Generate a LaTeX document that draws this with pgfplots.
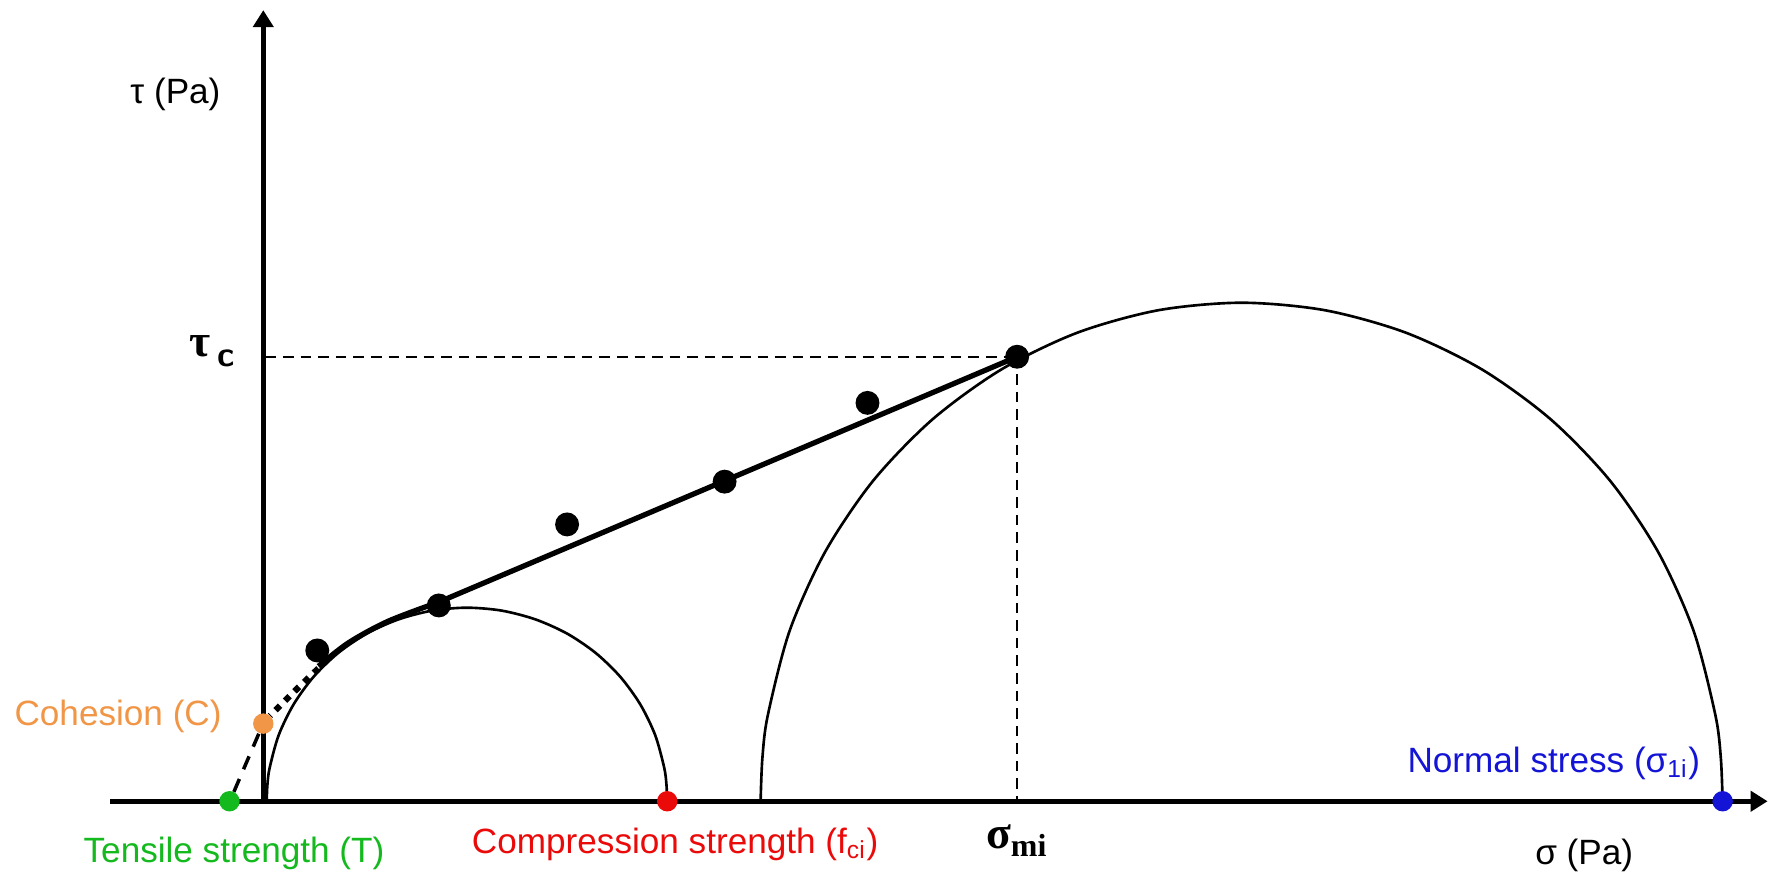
\documentclass[border=0pt]{standalone}
\usepackage{fontspec}
\setmainfont{Liberation Sans}
\newfontfamily\serifgreek{Liberation Serif}
\usepackage{pgfplots}
\pgfplotsset{compat=1.18}
\usetikzlibrary{arrows.meta}

\definecolor{tgreen}{RGB}{20,185,30}
\definecolor{cred}{RGB}{235,10,10}
\definecolor{nblue}{RGB}{20,20,215}
\definecolor{corange}{RGB}{240,150,70}

\begin{document}
\begin{tikzpicture}
\begin{axis}[
    hide axis, scale only axis,
    width=17.71cm, height=8.80cm,
    xmin=0, xmax=1574, ymin=0, ymax=782,
    y dir=reverse, clip=false,
    every node/.style={font=\fontsize{11}{13}\selectfont},
]
% keeps the page as large as the frame
\addplot[draw=none] coordinates {(0,0) (1574,782)};

% small Mohr circle
\addplot[smooth, line width=0.75pt] coordinates {
    (593,712) (592.3,697) (590.3,682.1) (582.3,653.2) (569.1,626) (551.3,601.4)
    (529.4,580.2) (504,563) (475.9,550.4) (445.9,542.6) (415,540)
    (384.1,542.6) (354.1,550.4) (326,563) (300.6,580.2) (278.7,601.4)
    (260.9,626) (247.7,653.2) (239.7,682.1) (237.7,697) (237,712)};

% large Mohr circle
\addplot[smooth, line width=0.75pt] coordinates {
    (1531,712) (1529.4,673.4) (1524.5,635.1) (1505.2,560.5) (1473.7,490.5) (1431,427.2)
    (1378.3,372.7) (1317.3,328.4) (1249.7,295.7) (1177.7,275.7) (1103.5,269)
    (1029.3,275.7) (957.3,295.7) (889.8,328.4) (828.7,372.7) (776,427.2)
    (733.3,490.5) (701.8,560.5) (682.5,635.1) (677.6,673.4) (676,712)};

% failure envelope
\addplot[smooth, line width=1.5pt] coordinates {
    (283,592) (310,571) (345,552) (390,535)};
\addplot[line width=1.5pt] coordinates {(390,535) (904,317)};
\addplot[line width=1.8pt, dotted] coordinates {(283,594) (262,614) (240,636)};
\addplot[line width=1pt, dash pattern=on 4pt off 3pt] coordinates {(230,652) (206,708)};

% guide lines
\addplot[line width=0.6pt, dash pattern=on 3pt off 2pt] coordinates {(236,317) (904,317)};
\addplot[line width=0.6pt, dash pattern=on 3pt off 2pt] coordinates {(904,317) (904,712)};

% axes
\addplot[line width=1.5pt, -{Triangle[length=1.7mm, width=2mm]}] coordinates {(98,712) (1571,712)};
\addplot[line width=1.5pt, -{Triangle[length=1.7mm, width=2mm]}] coordinates {(234,712) (234,9)};

% test points
\addplot[only marks, mark=*, mark size=3.2pt, black] coordinates {
    (282,578) (390,538) (504,466) (644,428) (771,358) (904,317)};

% marked strengths
\addplot[only marks, mark=*, mark size=2.7pt, tgreen] coordinates {(204,712)};
\addplot[only marks, mark=*, mark size=2.7pt, cred] coordinates {(593,712)};
\addplot[only marks, mark=*, mark size=2.7pt, nblue] coordinates {(1531,712)};
\addplot[only marks, mark=*, mark size=2.7pt, corange] coordinates {(234,643)};

% labels
\node[anchor=east] at (axis cs:207,84) {τ (Pa)};
\node[anchor=east, font=\fontsize{13}{14}\selectfont\bfseries\serifgreek] at (axis cs:220,312)
    {τ\,\raisebox{-0.45ex}{\fontsize{10}{11}\selectfont\sffamily\bfseries c}};
\node[anchor=east, text=corange] at (axis cs:208,637) {Cohesion (C)};
\node[text=tgreen] at (axis cs:208,758) {Tensile strength (T)};
\node[text=cred] at (axis cs:600,750) {Compression strength (f\textsubscript{ci})};
\node[font=\fontsize{13}{14}\selectfont\bfseries\serifgreek] at (axis cs:904,747) {σ\textsubscript{mi}};
\node[anchor=east, text=nblue] at (axis cs:1522,678) {Normal stress (σ\textsubscript{1i})};
\node at (axis cs:1408,760) {σ (Pa)};
\end{axis}
\end{tikzpicture}
\end{document}
